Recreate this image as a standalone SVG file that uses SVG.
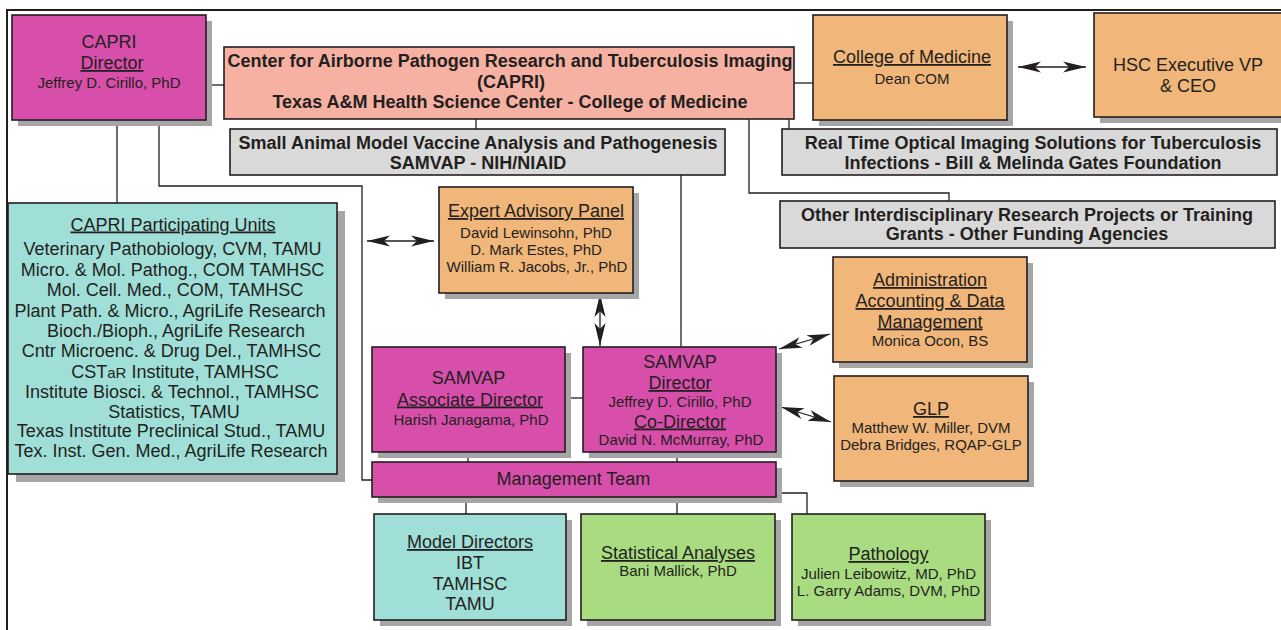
<svg xmlns="http://www.w3.org/2000/svg" width="1281" height="630" viewBox="0 0 1281 630">
<style>
text{font-family:"Liberation Sans",Arial,sans-serif;fill:#231F20;text-anchor:middle}
.b{font-weight:bold;font-size:18px}
.t{font-size:18px}
.s{font-size:15px}
.u{text-decoration:underline}
.box{stroke:#231F20;stroke-width:1.6}
.sh{fill:#A6A6A6}
.mg{fill:#D84FAB}
.or{fill:#F1B679}
.sa{fill:#F6B1A2}
.gr{fill:#D9D9D9}
.cy{fill:#A0DFD8}
.gn{fill:#A9DC80}
.ln{fill:none;stroke:#231F20;stroke-width:1.3}
.ar{fill:none;stroke:#231F20;stroke-width:1.3;marker-start:url(#ah);marker-end:url(#ah)}
</style>
<defs>
<marker id="ah" viewBox="0 -6 24 12" refX="23" refY="0" markerWidth="24" markerHeight="12" markerUnits="userSpaceOnUse" orient="auto-start-reverse">
<path d="M0,-5.5 L23,0 L0,5.5 L6,0 Z" fill="#231F20"/>
</marker>
</defs>
<rect width="1281" height="630" fill="#fff"/>
<path d="M7,630 V10 H1281" fill="none" stroke="#231F20" stroke-width="2"/>

<g id="connectors">
<path class="ln" d="M204,85 H224"/>
<path class="ln" d="M476,119 V129"/>
<path class="ln" d="M789,119 V129"/>
<path class="ln" d="M794,83 H813"/>
<path class="ln" d="M749,119 V193 H949 V201"/>
<path class="ln" d="M117,120 V203"/>
<path class="ln" d="M159,120 V186 H362 V480 H372"/>
<path class="ln" d="M681,175 V347"/>
<path class="ln" d="M565,398 H583"/>
<path class="ln" d="M468,452 V462"/>
<path class="ln" d="M677,452 V462"/>
<path class="ln" d="M466,497 V514"/>
<path class="ln" d="M677,497 V514"/>
<path class="ln" d="M776,493 H807 V514"/>
<path class="ar" d="M1018,67 H1086"/>
<path class="ar" d="M367,241 H434"/>
<path class="ar" d="M600,294 V346"/>
<path class="ar" d="M779,349 L830,334"/>
<path class="ar" d="M781,407 L831,422"/>
</g>

<g id="capri-director">
<rect class="sh" x="18" y="21" width="194" height="105"/>
<rect class="box mg" x="12" y="15" width="194" height="105"/>
<text class="t" x="109" y="48">CAPRI</text>
<text class="t u" x="112" y="69">Director</text>
<text class="s" x="109" y="88">Jeffrey D. Cirillo, PhD</text>
</g>

<g id="capri-center">
<rect class="box sa" x="224" y="47" width="570" height="72"/>
<text class="b" x="510" y="66.5">Center for Airborne Pathogen Research and Tuberculosis Imaging</text>
<text class="b" x="511" y="87.5">(CAPRI)</text>
<text class="b" x="510" y="108">Texas A&amp;M Health Science Center - College of Medicine</text>
</g>

<g id="samvap-grant">
<rect class="box gr" x="230" y="129" width="495" height="46"/>
<text class="b" x="478" y="148.5">Small Animal Model Vaccine Analysis and Pathogenesis</text>
<text class="b" x="478" y="169">SAMVAP - NIH/NIAID</text>
</g>

<g id="college-medicine">
<rect class="sh" x="819" y="21" width="194" height="105"/>
<rect class="box or" x="813" y="15" width="194" height="105"/>
<text class="t u" x="912" y="63">College of Medicine</text>
<text class="s" x="912" y="83.5">Dean COM</text>
</g>

<g id="hsc-vp">
<rect class="sh" x="1100" y="19" width="188" height="104"/>
<rect class="box or" x="1094" y="13" width="188" height="104"/>
<text class="t" x="1188" y="71">HSC Executive VP</text>
<text class="t" x="1188" y="92">&amp; CEO</text>
</g>

<g id="gates-grant">
<rect class="box gr" x="782" y="129" width="495" height="46"/>
<text class="b" x="1033" y="148.5">Real Time Optical Imaging Solutions for Tuberculosis</text>
<text class="b" x="1033" y="169">Infections - Bill &amp; Melinda Gates Foundation</text>
</g>

<g id="other-grants">
<rect class="box gr" x="780" y="201" width="495" height="47"/>
<text class="b" x="1027" y="221">Other Interdisciplinary Research Projects or Training</text>
<text class="b" x="1027" y="240">Grants - Other Funding Agencies</text>
</g>

<g id="participating-units">
<rect class="sh" x="16" y="211" width="329" height="271"/>
<rect class="box cy" x="8" y="203" width="329" height="271"/>
<text class="t u" x="173" y="230.5">CAPRI Participating Units </text>
<text class="t" x="172.5" y="255">Veterinary Pathobiology, CVM, TAMU</text>
<text class="t" x="172.5" y="275.5">Micro. &amp; Mol. Pathog., COM TAMHSC</text>
<text class="t" x="175" y="296">Mol. Cell. Med., COM, TAMHSC</text>
<text class="t" x="170" y="316.5">Plant Path. &amp; Micro., AgriLife Research</text>
<text class="t" x="176" y="337">Bioch./Bioph., AgriLife Research</text>
<text class="t" x="171.5" y="357">Cntr Microenc. &amp; Drug Del., TAMHSC</text>
<text class="t" x="175" y="377.5">CST<tspan font-size="15">aR</tspan> Institute, TAMHSC</text>
<text class="t" x="172" y="397.5">Institute Biosci. &amp; Technol., TAMHSC</text>
<text class="t" x="174" y="417.5">Statistics, TAMU</text>
<text class="t" x="171" y="437">Texas Institute Preclinical Stud., TAMU</text>
<text class="t" x="171" y="457">Tex. Inst. Gen. Med., AgriLife Research</text>
</g>

<g id="expert-panel">
<rect class="sh" x="445" y="193" width="194" height="106"/>
<rect class="box or" x="439" y="187" width="194" height="106"/>
<text class="t u" x="536" y="217">Expert Advisory Panel</text>
<text class="s" x="536" y="237.5">David Lewinsohn, PhD</text>
<text class="s" x="536" y="255">D. Mark Estes, PhD</text>
<text class="s" x="537" y="272">William R. Jacobs, Jr., PhD</text>
</g>

<g id="samvap-assoc">
<rect class="sh" x="378" y="353" width="193" height="105"/>
<rect class="box mg" x="372" y="347" width="193" height="105"/>
<text class="t" x="468.5" y="384">SAMVAP</text>
<text class="t u" x="470" y="405.5">Associate Director</text>
<text class="s" x="471" y="425">Harish Janagama, PhD</text>
</g>

<g id="samvap-director">
<rect class="sh" x="589" y="353" width="193" height="105"/>
<rect class="box mg" x="583" y="347" width="193" height="105"/>
<text class="t" x="680" y="368">SAMVAP</text>
<text class="t u" x="680" y="389">Director</text>
<text class="s" x="680" y="406.5">Jeffrey D. Cirillo, PhD</text>
<text class="t u" x="680" y="427.5">Co-Director</text>
<text class="s" x="681" y="445">David N. McMurray, PhD</text>
</g>

<g id="management-team">
<rect class="sh" x="378" y="468" width="404" height="35"/>
<rect class="box mg" x="372" y="462" width="404" height="35"/>
<text class="t" x="573.5" y="485">Management Team</text>
</g>

<g id="administration">
<rect class="sh" x="839" y="263" width="194" height="105"/>
<rect class="box or" x="833" y="257" width="194" height="105"/>
<text class="t u" x="930" y="286">Administration</text>
<text class="t u" x="930" y="307">Accounting &amp; Data</text>
<text class="t u" x="930" y="327.5">Management</text>
<text class="s" x="930" y="345.5">Monica Ocon, BS</text>
</g>

<g id="glp">
<rect class="sh" x="840" y="382" width="194" height="105"/>
<rect class="box or" x="834" y="376" width="194" height="105"/>
<text class="t u" x="931" y="415">GLP</text>
<text class="s" x="931" y="433">Matthew W. Miller, DVM</text>
<text class="s" x="931" y="450">Debra Bridges, RQAP-GLP</text>
</g>

<g id="model-directors">
<rect class="sh" x="380" y="520" width="192" height="106"/>
<rect class="box cy" x="374" y="514" width="192" height="106"/>
<text class="t u" x="470" y="548">Model Directors</text>
<text class="t" x="470" y="569">IBT</text>
<text class="t" x="470" y="589.5">TAMHSC</text>
<text class="t" x="470" y="610">TAMU</text>
</g>

<g id="statistical-analyses">
<rect class="sh" x="587" y="520" width="194" height="106"/>
<rect class="box gn" x="581" y="514" width="194" height="106"/>
<text class="t u" x="678" y="559">Statistical Analyses</text>
<text class="s" x="678" y="576">Bani Mallick, PhD</text>
</g>

<g id="pathology">
<rect class="sh" x="798" y="520" width="193" height="106"/>
<rect class="box gn" x="792" y="514" width="193" height="106"/>
<text class="t u" x="888.5" y="560">Pathology</text>
<text class="s" x="888.5" y="579">Julien Leibowitz, MD, PhD</text>
<text class="s" x="888.5" y="596">L. Garry Adams, DVM, PhD</text>
</g>
</svg>
